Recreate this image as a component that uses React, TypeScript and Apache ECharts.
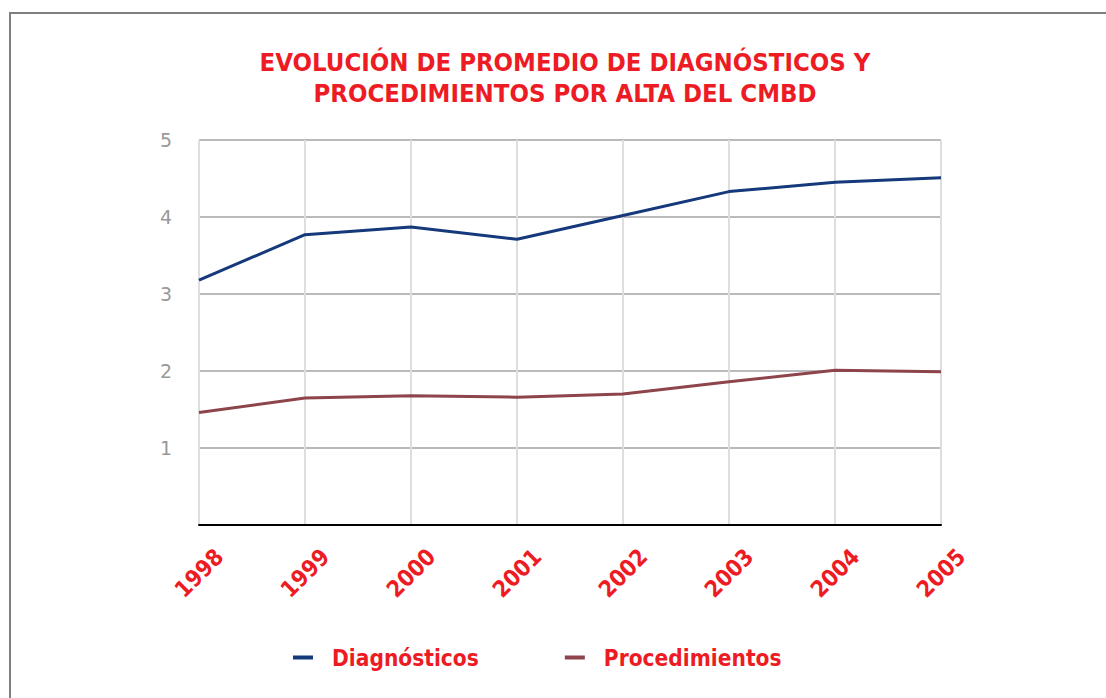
import React, { useEffect, useRef } from "react";
import * as echarts from "echarts";

const years = ["1998", "1999", "2000", "2001", "2002", "2003", "2004", "2005"];
const diagnosticos = [3.18, 3.77, 3.87, 3.71, 4.02, 4.33, 4.45, 4.51];
const procedimientos = [1.46, 1.65, 1.68, 1.66, 1.7, 1.86, 2.01, 1.99];
const yTicks = [0, 1, 2, 3, 4, 5];

const RED = "#ed1c24";
const BLUE = "#15397a";
const MAROON = "#8e444b";
const FONT = "DejaVu Sans Condensed";

export default function App() {
  const ref = useRef<HTMLDivElement>(null);
  useEffect(() => {
    if (!ref.current) return;
    const chart = echarts.init(ref.current, null, { renderer: "svg" });
    chart.setOption({
      animation: false,
      backgroundColor: "#ffffff",
      graphic: [
        {
          type: "rect",
          shape: { x: 10, y: 13, width: 1200, height: 800 },
          style: { fill: "none", stroke: "#7f7f7f", lineWidth: 2 },
          silent: true,
        },
        {
          type: "text",
          x: 565,
          y: 46,
          style: {
            text: "EVOLUCIÓN DE PROMEDIO DE DIAGNÓSTICOS Y\nPROCEDIMIENTOS POR ALTA DEL CMBD",
            fill: RED,
            fontSize: 25.5,
            fontWeight: "bold",
            fontFamily: FONT,
            align: "center",
            textAlign: "center",
            lineHeight: 31,
          },
        },
      ],
      grid: { left: 199, right: 165, top: 140, bottom: 173, containLabel: false },
      legend: {
        left: 293,
        top: 646,
        padding: 0,
        icon: "rect",
        itemWidth: 20,
        itemHeight: 4,
        itemGap: 86,
        textStyle: {
          color: RED,
          fontSize: 22.5,
          fontWeight: "bold",
          fontFamily: FONT,
          padding: [0, 0, 0, 14],
        },
        data: ["Diagnósticos", "Procedimientos"],
      },
      xAxis: {
        type: "category",
        data: years,
        boundaryGap: false,
        axisLine: { show: true, lineStyle: { color: "#000000", width: 2 } },
        axisTick: { show: false },
        splitLine: { show: true, lineStyle: { color: "#dedede", width: 2 } },
        axisLabel: {
          rotate: 45,
          align: "center",
          verticalAlign: "middle",
          margin: 48,
          color: RED,
          fontSize: 23,
          fontWeight: "bold",
          fontFamily: FONT,
          interval: 0,
        },
      },
      yAxis: {
        type: "value",
        min: yTicks[0],
        max: yTicks[yTicks.length - 1],
        interval: 1,
        axisLine: { show: false },
        axisTick: { show: false },
        splitLine: { show: true, lineStyle: { color: "#a3a3a3", width: 1.5 } },
        axisLabel: {
          margin: 27,
          color: "#999999",
          fontSize: 19,
          fontFamily: "DejaVu Sans",
          formatter: (v: number) => (v === 0 ? "" : String(v)),
        },
      },
      series: [
        {
          name: "Diagnósticos",
          type: "line",
          data: diagnosticos,
          showSymbol: false,
          symbol: "none",
          lineStyle: { color: BLUE, width: 3 },
          itemStyle: { color: BLUE },
        },
        {
          name: "Procedimientos",
          type: "line",
          data: procedimientos,
          showSymbol: false,
          symbol: "none",
          lineStyle: { color: MAROON, width: 3 },
          itemStyle: { color: MAROON },
        },
      ],
    });
    return () => chart.dispose();
  }, []);
  return (
    <div
      ref={ref}
      style={{ position: "fixed", left: 0, top: 0, width: 1106, height: 698 }}
    />
  );
}
